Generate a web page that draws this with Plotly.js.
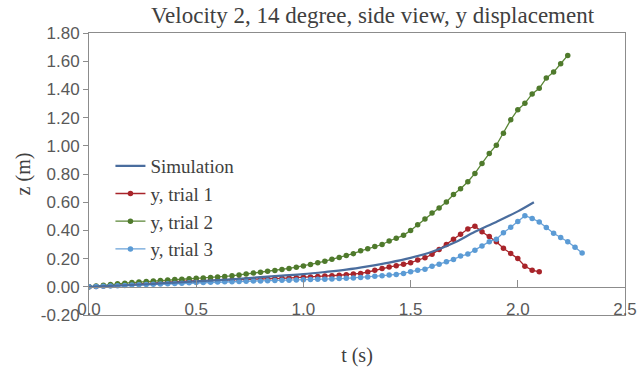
<!DOCTYPE html>
<html>
<head>
<meta charset="utf-8">
<script src="https://cdn.plot.ly/plotly-3.0.1.min.js"></script>
<style>html,body{margin:0;padding:0;background:#fff;}#chart{width:638px;height:367px;}</style>
</head>
<body>
<div id="chart"></div>
<script>
// Frame times (s), 30 frames per second
var frameTime = [0.000,0.033,0.067,0.100,0.133,0.167,0.200,0.233,0.267,0.300,
  0.333,0.367,0.400,0.433,0.467,0.500,0.533,0.567,0.600,0.633,
  0.667,0.700,0.733,0.767,0.800,0.833,0.867,0.900,0.933,0.967,
  1.000,1.033,1.067,1.100,1.133,1.167,1.200,1.233,1.267,1.300,
  1.333,1.367,1.400,1.433,1.467,1.500,1.533,1.567,1.600,1.633,
  1.667,1.700,1.733,1.767,1.800,1.833,1.867,1.900,1.933,1.967,
  2.000,2.033,2.067,2.100,2.133,2.167,2.200,2.233,2.267,2.300];

// Simulation
var simT = [0,0.1,0.2,0.3,0.4,0.5,0.6,0.7,0.8,0.9,1.0,1.1,1.2,1.3,1.4,1.5,1.6,1.7,1.8,1.9,2.0,2.075];
var simZ = [0,0.006,0.013,0.021,0.030,0.038,0.047,0.057,0.068,0.079,0.090,0.105,0.122,0.145,0.172,0.205,0.248,0.310,0.390,0.460,0.535,0.600];

// y, trial 1
var trial1Z = [0,0.003,0.006,0.010,0.013,0.017,0.021,0.025,0.028,0.031,
  0.033,0.035,0.037,0.039,0.041,0.042,0.043,0.044,0.045,0.046,
  0.047,0.048,0.050,0.052,0.054,0.056,0.058,0.060,0.062,0.064,
  0.067,0.070,0.073,0.076,0.079,0.082,0.086,0.090,0.095,0.105,
  0.118,0.130,0.140,0.150,0.160,0.170,0.190,0.206,0.230,0.264,
  0.300,0.337,0.373,0.410,0.430,0.390,0.356,0.320,0.273,0.237,
  0.200,0.146,0.118,0.106];

// y, trial 2
var trial2Z = [0,0.006,0.011,0.016,0.021,0.026,0.030,0.034,0.038,0.041,
  0.044,0.048,0.051,0.054,0.057,0.060,0.063,0.066,0.069,0.073,
  0.078,0.084,0.090,0.097,0.104,0.110,0.116,0.122,0.130,0.139,
  0.148,0.159,0.170,0.182,0.196,0.208,0.222,0.235,0.255,0.270,
  0.285,0.300,0.325,0.345,0.365,0.400,0.440,0.480,0.523,0.558,
  0.601,0.654,0.695,0.745,0.804,0.875,0.946,1.004,1.089,1.184,
  1.256,1.301,1.368,1.408,1.480,1.523,1.582,1.641];

// y, trial 3
var trial3Z = [0,0.002,0.004,0.006,0.008,0.010,0.012,0.014,0.016,0.018,
  0.020,0.022,0.024,0.026,0.028,0.030,0.031,0.032,0.034,0.035,
  0.036,0.038,0.040,0.041,0.042,0.043,0.044,0.046,0.047,0.048,
  0.050,0.051,0.053,0.054,0.056,0.058,0.060,0.063,0.066,0.070,
  0.074,0.078,0.083,0.088,0.095,0.106,0.118,0.125,0.146,0.160,
  0.177,0.194,0.218,0.232,0.260,0.290,0.320,0.337,0.384,0.423,
  0.463,0.504,0.485,0.460,0.420,0.380,0.350,0.320,0.280,0.240];

var xTickVals = [0,0.5,1.0,1.5,2.0,2.5];
var xTickText = ['0.0','0.5','1.0','1.5','2.0','2.5'];
var yTickVals = [-0.2,0,0.2,0.4,0.6,0.8,1.0,1.2,1.4,1.6,1.8];
var yTickText = ['-0.20','0.00','0.20','0.40','0.60','0.80','1.00','1.20','1.40','1.60','1.80'];

var serif = '"Liberation Serif", "Times New Roman", serif';
var sans = '"Liberation Sans", Arial, sans-serif';

var traces = [
  {x: simT, y: simZ, name: 'Simulation', mode: 'lines', xaxis: 'x2',
   line: {color: '#4a6d9e', width: 2.2, shape: 'spline'}},
  {x: frameTime.slice(0, trial1Z.length), y: trial1Z, name: 'y, trial 1', mode: 'lines+markers',
   line: {color: '#a8242a', width: 1.3}, marker: {color: '#a8242a', size: 5.5}},
  {x: frameTime.slice(0, trial2Z.length), y: trial2Z, name: 'y, trial 2', mode: 'lines+markers',
   line: {color: '#5a8636', width: 1.3}, marker: {color: '#4f7a2c', size: 5.5}},
  {x: frameTime.slice(0, trial3Z.length), y: trial3Z, name: 'y, trial 3', mode: 'lines+markers',
   line: {color: '#6aa2d8', width: 1.3}, marker: {color: '#5b9bd5', size: 5.5}}
];

var layout = {
  width: 638, height: 367,
  margin: {l: 89, r: 13, t: 33, b: 52},
  paper_bgcolor: '#ffffff', plot_bgcolor: '#ffffff',
  showlegend: true,
  title: {text: 'Velocity 2, 14 degree, side view, y displacement',
    font: {family: serif, size: 23, color: '#404040'},
    xref: 'container', x: 0.584, xanchor: 'center',
    yref: 'container', y: 1 - 15/367, yanchor: 'middle'},
  xaxis: {range: [0, 2.5], anchor: 'free', position: 0.1,
    showline: true, linecolor: '#8c8c8c', linewidth: 1,
    ticks: 'inside', ticklen: 7, tickcolor: '#8c8c8c',
    tickvals: xTickVals, showticklabels: false,
    showgrid: false, zeroline: false, fixedrange: true},
  xaxis2: {range: [0, 2.5], overlaying: 'x', anchor: 'y', side: 'bottom',
    showline: true, mirror: true, linecolor: '#8c8c8c', linewidth: 1,
    ticks: '', tickvals: xTickVals, ticktext: xTickText,
    tickfont: {family: sans, size: 17, color: '#595959'},
    ticklabelstandoff: -21,
    showgrid: false, zeroline: false,
    title: {text: 't (s)', font: {family: serif, size: 20, color: '#404040'}, standoff: 29}},
  yaxis: {range: [-0.2, 1.8], anchor: 'x2',
    showline: true, mirror: true, linecolor: '#8c8c8c', linewidth: 1,
    ticks: 'outside', ticklen: 5, tickcolor: '#8c8c8c',
    tickvals: yTickVals, ticktext: yTickText,
    tickfont: {family: sans, size: 17, color: '#595959'},
    showgrid: false, zeroline: false,
    title: {text: 'z (m)', font: {family: serif, size: 20, color: '#404040'}, standoff: 4}},
  legend: {x: 0.04, xanchor: 'left', y: 0.596, yanchor: 'top',
    bgcolor: 'rgba(0,0,0,0)', itemwidth: 30,
    font: {family: serif, size: 19, color: '#404040'}}
};

Plotly.newPlot('chart', traces, layout, {displayModeBar: false, staticPlot: true});
</script>
</body>
</html>
